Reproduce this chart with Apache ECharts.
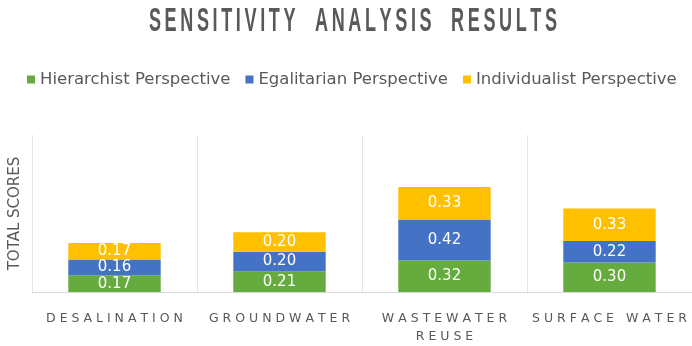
<!DOCTYPE html>
<html>
<head>
<meta charset="utf-8">
<script src="https://cdn.jsdelivr.net/npm/echarts@6/dist/echarts.min.js"></script>
<style>
  html, body { margin: 0; padding: 0; background: #ffffff; }
  #chart { width: 692px; height: 346px; }
</style>
</head>
<body>
<div id="chart"></div>
<script>
// Alternatives compared in the sensitivity analysis
const categories = ['DESALINATION', 'GROUNDWATER', 'WASTEWATER\nREUSE', 'SURFACE WATER'];

// Scores for each perspective, stacked per alternative
const hierarchist = [0.17, 0.21, 0.32, 0.30];
const egalitarian = [0.16, 0.20, 0.42, 0.22];
const individualist = [0.17, 0.20, 0.33, 0.33];

const seriesNames = ['Hierarchist Perspective', 'Egalitarian Perspective', 'Individualist Perspective'];
const seriesColors = ['#65ab3d', '#4472c4', '#ffc000'];

const chartTitle = 'SENSITIVITY ANALYSIS RESULTS';

const chart = echarts.init(document.getElementById('chart'));

// Spread letters apart for the wide-tracked axis labels
function track(text) {
  return text.split('\n').map(line => line.split('').join(' ')).join('\n');
}

// Lighter tracking for the title: thin spaces between letters, wider gaps between words
function trackThin(text) {
  return text.split(' ').map(w => w.split('').join('\u2009')).join('\u2009\u2009 \u2009\u2009');
}

function barSeries(name, data, color) {
  return {
    name: name,
    type: 'bar',
    stack: 'total',
    data: data,
    barWidth: '56%',
    itemStyle: { color: color },
    label: {
      show: true,
      position: 'inside',
      color: '#ffffff',
      fontFamily: 'DejaVu Sans',
      fontSize: 15,
      formatter: p => p.value.toFixed(2)
    }
  };
}

chart.setOption({
  animation: false,
  graphic: [{
    type: 'text',
    x: 353,
    y: 22,
    scaleX: 0.84,
    scaleY: 1.55,
    style: {
      text: trackThin(chartTitle),
      font: 'bold 21.5px "Liberation Sans"',
      fill: '#595959',
      textAlign: 'center',
      textVerticalAlign: 'middle'
    }
  }],
  legend: {
    data: seriesNames,
    left: 22,
    top: 66,
    itemWidth: 8,
    itemHeight: 8,
    itemGap: 15,
    icon: 'rect',
    textStyle: { color: '#595959', fontFamily: 'DejaVu Sans', fontSize: 16.5 }
  },
  grid: { left: 30, top: 135, width: 670, height: 158, containLabel: false },
  xAxis: {
    type: 'category',
    data: categories,
    axisLine: { lineStyle: { color: '#d9d9d9' } },
    axisTick: { show: false },
    splitLine: { show: true, lineStyle: { color: '#e6e6e6' } },
    axisLabel: {
      color: '#595959',
      fontFamily: 'DejaVu Sans',
      fontSize: 12.5,
      margin: 18,
      lineHeight: 18,
      interval: 0,
      formatter: v => track(v)
    }
  },
  yAxis: {
    type: 'value',
    min: 0,
    max: 1.6,
    name: 'TOTAL SCORES',
    nameLocation: 'middle',
    nameGap: 9,
    nameTextStyle: { color: '#595959', fontFamily: 'DejaVu Sans', fontSize: 15 },
    axisLine: { show: false },
    axisTick: { show: false },
    axisLabel: { show: false },
    splitLine: { show: false }
  },
  series: [
    barSeries(seriesNames[0], hierarchist, seriesColors[0]),
    barSeries(seriesNames[1], egalitarian, seriesColors[1]),
    barSeries(seriesNames[2], individualist, seriesColors[2])
  ]
});
</script>
</body>
</html>
